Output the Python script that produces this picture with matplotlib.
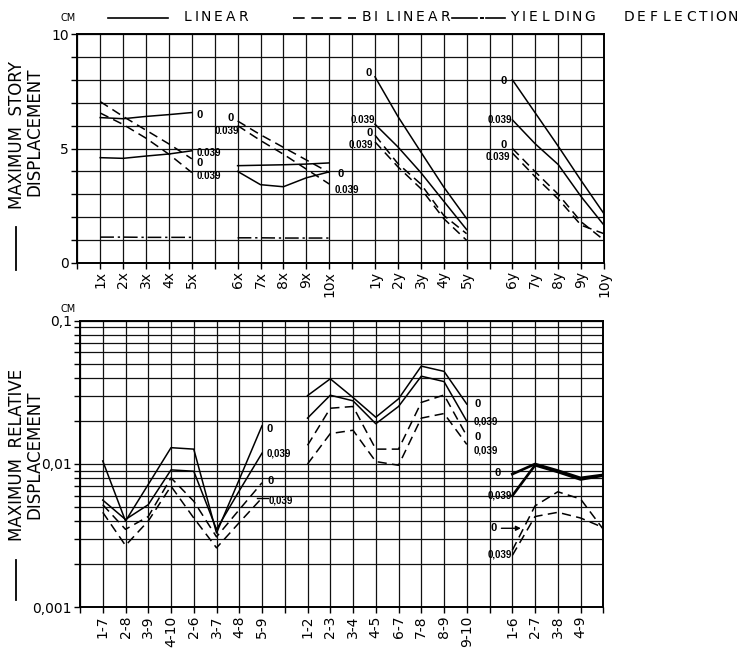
import numpy as np
import matplotlib.pyplot as plt
from matplotlib.lines import Line2D
from matplotlib.ticker import NullFormatter

# ---- Top panel: maximum story displacement [cm] ----
TOP_X1 = ['1x', '2x', '3x', '4x', '5x']
TOP_X2 = ['6x', '7x', '8x', '9x', '10x']
TOP_Y1 = ['1y', '2y', '3y', '4y', '5y']
TOP_Y2 = ['6y', '7y', '8y', '9y', '10y']

x1_lin0 = [6.35, 6.30, 6.40, 6.48, 6.57]
x1_lin039 = [4.60, 4.57, 4.67, 4.76, 4.90]
x1_bil0 = [7.05, 6.40, 5.80, 5.20, 4.55]
x1_bil039 = [6.55, 6.05, 5.45, 4.75, 3.95]
x1_yield = [1.13, 1.13, 1.12, 1.12, 1.12]

x2_lin_a = [4.25, 4.27, 4.29, 4.32, 4.37]
x2_lin_b = [4.00, 3.42, 3.33, 3.72, 3.98]
x2_bil0 = [6.20, 5.60, 5.05, 4.50, 3.95]
x2_bil039 = [6.00, 5.35, 4.75, 4.10, 3.45]
x2_yield = [1.10, 1.10, 1.09, 1.09, 1.09]

y1_lin0 = [8.13, 6.40, 4.85, 3.32, 1.94]
y1_lin039 = [6.06, 5.07, 3.95, 2.70, 1.46]
y1_bil0 = [5.58, 4.34, 3.45, 2.08, 1.28]
y1_bil039 = [5.29, 4.20, 3.25, 1.94, 0.99]

y2_lin0 = [8.00, 6.55, 5.10, 3.60, 2.15]
y2_lin039 = [6.25, 5.20, 4.30, 2.90, 1.65]
y2_bil0 = [5.00, 3.98, 3.00, 1.80, 1.00]
y2_bil039 = [4.80, 3.76, 2.80, 1.65, 1.28]

# ---- Bottom panel: maximum relative displacement [cm] ----
BOT_A = ['1-7', '2-8', '3-9', '4-10', '2-6', '3-7', '4-8', '5-9']
BOT_B = ['1-2', '2-3', '3-4', '4-5', '6-7', '7-8', '8-9', '9-10']
BOT_C = ['1-6', '2-7', '3-8', '4-9']

a_lin0 = [0.0105, 0.0040, 0.0072, 0.0130, 0.0127, 0.0033, 0.0078, 0.0185]
a_lin039 = [0.0056, 0.0041, 0.0052, 0.0091, 0.0089, 0.0035, 0.0065, 0.0119]
a_bil0 = [0.0052, 0.0035, 0.0043, 0.0080, 0.0055, 0.0031, 0.0048, 0.0074]
a_bil039 = [0.0046, 0.0027, 0.0040, 0.0070, 0.0042, 0.0026, 0.0039, 0.0058]

b_lin0 = [0.0300, 0.0393, 0.0291, 0.0212, 0.0285, 0.0482, 0.0443, 0.0262]
b_lin039 = [0.0209, 0.0302, 0.0276, 0.0191, 0.0252, 0.0410, 0.0376, 0.0199]
b_bil0 = [0.0135, 0.0245, 0.0252, 0.0127, 0.0127, 0.0269, 0.0303, 0.0157]
b_bil039 = [0.0100, 0.0163, 0.0172, 0.0104, 0.0098, 0.0209, 0.0225, 0.0137]

# last point of group C sits on the right frame (no label)
c_lin0 = [0.0085, 0.0100, 0.0090, 0.0080, 0.0084]
c_lin039 = [0.0060, 0.0098, 0.0088, 0.0078, 0.0083]
c_bil0 = [0.0025, 0.0051, 0.0064, 0.0057, 0.0035]
c_bil039 = [0.0023, 0.0043, 0.0046, 0.0042, 0.0036]

W, H = 746, 652
DASH = (0, (6, 3.5))
DASHDOT = (0, (9, 2.5, 1.5, 2.5))
LABEL_FONT = ['Liberation Sans', 'DejaVu Sans']


def fx(px):
    return px / W


def fy(py):
    return 1 - py / H


def spaced_text(fig, left, center, s, pitch, size):
    """Wide-tracked lettering, one glyph at a time (pixel coords)."""
    cur = left
    for ch in s:
        adv = pitch * (0.45 if ch == 'I' else 1.0)
        if ch != ' ':
            fig.text(fx(cur + adv / 2), fy(center), ch, ha='center',
                     va='center', fontsize=size)
        cur += adv


def fig_line(x0, y0, x1, y1, **kw):
    fig.add_artist(Line2D([fx(x0), fx(x1)], [fy(y0), fy(y1)], color='k', **kw))


def style_axis(ax):
    ax.grid(True, which='both', color='#111111', lw=0.9)
    ax.set_axisbelow(True)
    for sp in ax.spines.values():
        sp.set_linewidth(1.4)
    ax.tick_params(which='both', direction='out', length=4, width=1,
                   labelsize=10, pad=2)


def label(ax, x, y, s, ha='left'):
    size = 8 if s == '0' else 7
    ax.text(x, y, s, ha=ha, va='center', fontsize=size, weight='bold',
            family=LABEL_FONT)


fig = plt.figure(figsize=(W / 100, H / 100), dpi=100)
ax1 = fig.add_axes([fx(77.3), fy(263), (604 - 77.3) / W, (263 - 34) / H])
ax2 = fig.add_axes([fx(80), fy(607.3), (603.3 - 80) / W, (607.3 - 320.7) / H])

# ---- top panel ----
top_groups = [
    (1, TOP_X1, [(x1_lin0, '-'), (x1_lin039, '-'), (x1_bil0, DASH),
                 (x1_bil039, DASH), (x1_yield, DASHDOT)]),
    (7, TOP_X2, [(x2_lin_a, '-'), (x2_lin_b, '-'), (x2_bil0, DASH),
                 (x2_bil039, DASH), (x2_yield, DASHDOT)]),
    (13, TOP_Y1, [(y1_lin0, '-'), (y1_lin039, '-'), (y1_bil0, DASH),
                  (y1_bil039, DASH)]),
    (19, TOP_Y2, [(y2_lin0, '-'), (y2_lin039, '-'), (y2_bil0, DASH),
                  (y2_bil039, DASH)]),
]
tick_pos, tick_lab = [], []
for start, cats, series in top_groups:
    xs = np.arange(start, start + len(cats))
    for vals, ls in series:
        ax1.plot(xs, vals, color='k', lw=1.1, ls=ls)
    tick_pos += list(xs)
    tick_lab += cats

ax1.set_xlim(0, 23)
ax1.set_ylim(0, 10)
ax1.set_xticks(tick_pos)
ax1.set_xticklabels(tick_lab, rotation=90)
ax1.set_xticks(np.arange(0, 24), minor=True)
ax1.set_yticks(np.arange(0, 11))
ax1.set_yticklabels(['0', '', '', '', '', '5', '', '', '', '', '10'])
style_axis(ax1)

label(ax1, 5.22, 6.45, '0')
label(ax1, 5.20, 4.80, '0.039')
label(ax1, 5.22, 4.35, '0')
label(ax1, 5.20, 3.80, '0.039')
label(ax1, 6.85, 6.35, '0', ha='right')
label(ax1, 7.08, 5.78, '0.039', ha='right')
label(ax1, 11.35, 3.87, '0')
label(ax1, 11.22, 3.20, '0.039')
label(ax1, 12.85, 8.28, '0', ha='right')
label(ax1, 13.02, 6.24, '0.039', ha='right')
label(ax1, 12.90, 5.66, '0', ha='right')
label(ax1, 12.93, 5.15, '0.039', ha='right')
label(ax1, 18.75, 7.96, '0', ha='right')
label(ax1, 19.00, 6.24, '0.039', ha='right')
label(ax1, 18.75, 5.15, '0', ha='right')
label(ax1, 18.90, 4.64, '0.039', ha='right')

# ---- bottom panel ----
bot_groups = [
    (1, BOT_A, [a_lin0, a_lin039, a_bil0, a_bil039], 1.1),
    (10, BOT_B, [b_lin0, b_lin039, b_bil0, b_bil039], 1.1),
    (19, BOT_C, [c_lin0, c_lin039, c_bil0, c_bil039], 1.9),
]
tick_pos, tick_lab = [], []
for start, cats, series, lw in bot_groups:
    xs = np.arange(start, start + len(series[0]))
    for vals, ls in zip(series, ['-', '-', DASH, DASH]):
        ax2.plot(xs, vals, color='k', lw=lw if ls == '-' else 1.1, ls=ls)
    tick_pos += list(xs[:len(cats)])
    tick_lab += cats

ax2.set_yscale('log')
ax2.set_xlim(0, 23)
ax2.set_ylim(0.001, 0.1)
ax2.set_xticks(tick_pos)
ax2.set_xticklabels(tick_lab, rotation=90, fontsize=10.5)
ax2.set_xticks(np.arange(0, 24), minor=True)
ax2.set_yticks([0.001, 0.01, 0.1])
ax2.set_yticklabels(['0,001', '0,01', '0,1'])
ax2.yaxis.set_minor_formatter(NullFormatter())
style_axis(ax2)

label(ax2, 8.2, 0.0176, '0')
label(ax2, 8.2, 0.0119, '0,039')
label(ax2, 8.25, 0.0076, '0')
label(ax2, 8.3, 0.0056, '0,039')
ax2.plot([7.8, 8.25], [0.0058, 0.0058], color='k', lw=1)
label(ax2, 17.33, 0.0262, '0')
label(ax2, 17.3, 0.0198, '0,039')
label(ax2, 17.33, 0.0155, '0')
label(ax2, 17.3, 0.0125, '0,039')
label(ax2, 18.5, 0.0086, '0', ha='right')
label(ax2, 18.98, 0.0060, '0,039', ha='right')
label(ax2, 18.3, 0.00356, '0', ha='right')
ax2.annotate('', xy=(19.5, 0.00356), xytext=(18.4, 0.00356),
             arrowprops=dict(arrowstyle='-|>', color='k', lw=1,
                             mutation_scale=7))
label(ax2, 18.98, 0.00234, '0,039', ha='right')

# ---- legend strip ----
fig_line(108, 18, 168, 18, lw=1.2)
spaced_text(fig, 181, 17, 'LINEAR', 12.6, 10)
fig_line(293, 18, 356, 18, lw=1.2, ls=(0, (7, 4)))
spaced_text(fig, 360, 17, 'BI', 12.6, 10)
spaced_text(fig, 383, 17, 'LINEAR', 12.6, 10)
fig_line(452, 18, 477, 18, lw=1.2)
fig_line(480.5, 18, 482.5, 18, lw=1.4)
fig_line(486, 18, 505, 18, lw=1.2)
spaced_text(fig, 508, 17, 'YIELDING', 12.8, 10)
spaced_text(fig, 623, 17, 'DEFLECTION', 12.3, 10)

fig.text(fx(68), fy(18), 'CM', fontsize=7, ha='center', va='center')
fig.text(fx(68), fy(309), 'CM', fontsize=7, ha='center', va='center')

# ---- axis titles ----
fig.text(fx(17.5), fy(135), 'MAXIMUM  STORY', rotation=90, fontsize=12,
         ha='center', va='center')
fig.text(fx(34.5), fy(132), 'DISPLACEMENT', rotation=90, fontsize=12,
         ha='center', va='center')
fig_line(16, 227, 16, 270, lw=1.3)

fig.text(fx(17.5), fy(455), 'MAXIMUM  RELATIVE', rotation=90, fontsize=12,
         ha='center', va='center')
fig.text(fx(34.5), fy(455), 'DISPLACEMENT', rotation=90, fontsize=12,
         ha='center', va='center')
fig_line(16, 560, 16, 600, lw=1.3)

fig.savefig('out.png', dpi=100)
